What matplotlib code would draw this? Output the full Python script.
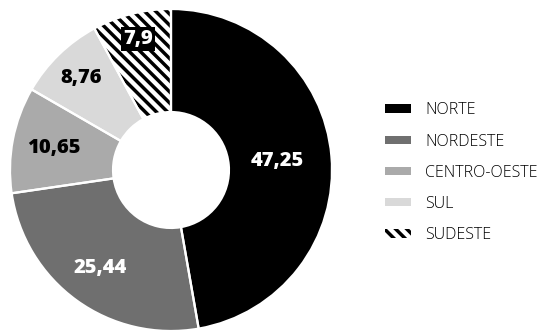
import matplotlib
matplotlib.use("Agg")
import matplotlib.pyplot as plt
from matplotlib.patches import Patch
import numpy as np

# Regional shares
regions = ["NORTE", "NORDESTE", "CENTRO-OESTE", "SUL", "SUDESTE"]
values = [47.25, 25.44, 10.65, 8.76, 7.9]
value_labels = ["47,25", "25,44", "10,65", "8,76", "7,9"]

colors = ["#000000", "#6f6f6f", "#aaaaaa", "#d9d9d9", "#ffffff"]
hatches = [None, None, None, None, "\\\\\\"]
text_colors = ["white", "white", "black", "black", "white"]
label_radius = [0.66, 0.75, 0.74, 0.80, 0.84]

plt.rcParams["hatch.linewidth"] = 2.5
plt.rcParams["font.family"] = ["Open Sans", "DejaVu Sans"]

fig = plt.figure(figsize=(5.49, 3.31), dpi=100)
ax = fig.add_axes([10 / 549, 0 / 331, 322 / 549, 322 / 331])

# filled/hatched wedges
wedges, _ = ax.pie(values, colors=colors, startangle=90, counterclock=False,
                   radius=1.0, wedgeprops=dict(width=0.64, linewidth=0, edgecolor="black"))
for w, h in zip(wedges, hatches):
    if h:
        w.set_hatch(h)

# white separators on top
ax.pie(values, colors=["none"] * len(values), startangle=90, counterclock=False,
       radius=1.0, wedgeprops=dict(width=0.64, linewidth=1.6, edgecolor="white"))

# value labels
for w, lab, tc, r in zip(wedges, value_labels, text_colors, label_radius):
    ang = np.deg2rad((w.theta1 + w.theta2) / 2)
    x, y = r * np.cos(ang), r * np.sin(ang)
    bbox = None
    if lab == "7,9":
        bbox = dict(boxstyle="square,pad=0.1", facecolor="black", edgecolor="none")
    ax.text(x, y, lab, ha="center", va="center", color=tc, fontsize=14.5,
            fontweight="heavy", bbox=bbox)

ax.set_xlim(-1, 1)
ax.set_ylim(-1, 1)
ax.set_aspect("equal")
ax.axis("off")

# legend
handles = [Patch(facecolor=c, edgecolor="black" if h else "none", linewidth=0, hatch=h)
           for c, h in zip(colors, hatches)]
fig.legend(handles, regions, loc="upper left", bbox_to_anchor=(371 / 549, 1 - 88 / 331),
           frameon=False, handlelength=1.6, handleheight=0.45,
           handletextpad=0.9, labelspacing=0.95,
           prop=dict(family=["Open Sans", "DejaVu Sans"], weight="light", size=11.5))

fig.savefig("out.png", dpi=100)
